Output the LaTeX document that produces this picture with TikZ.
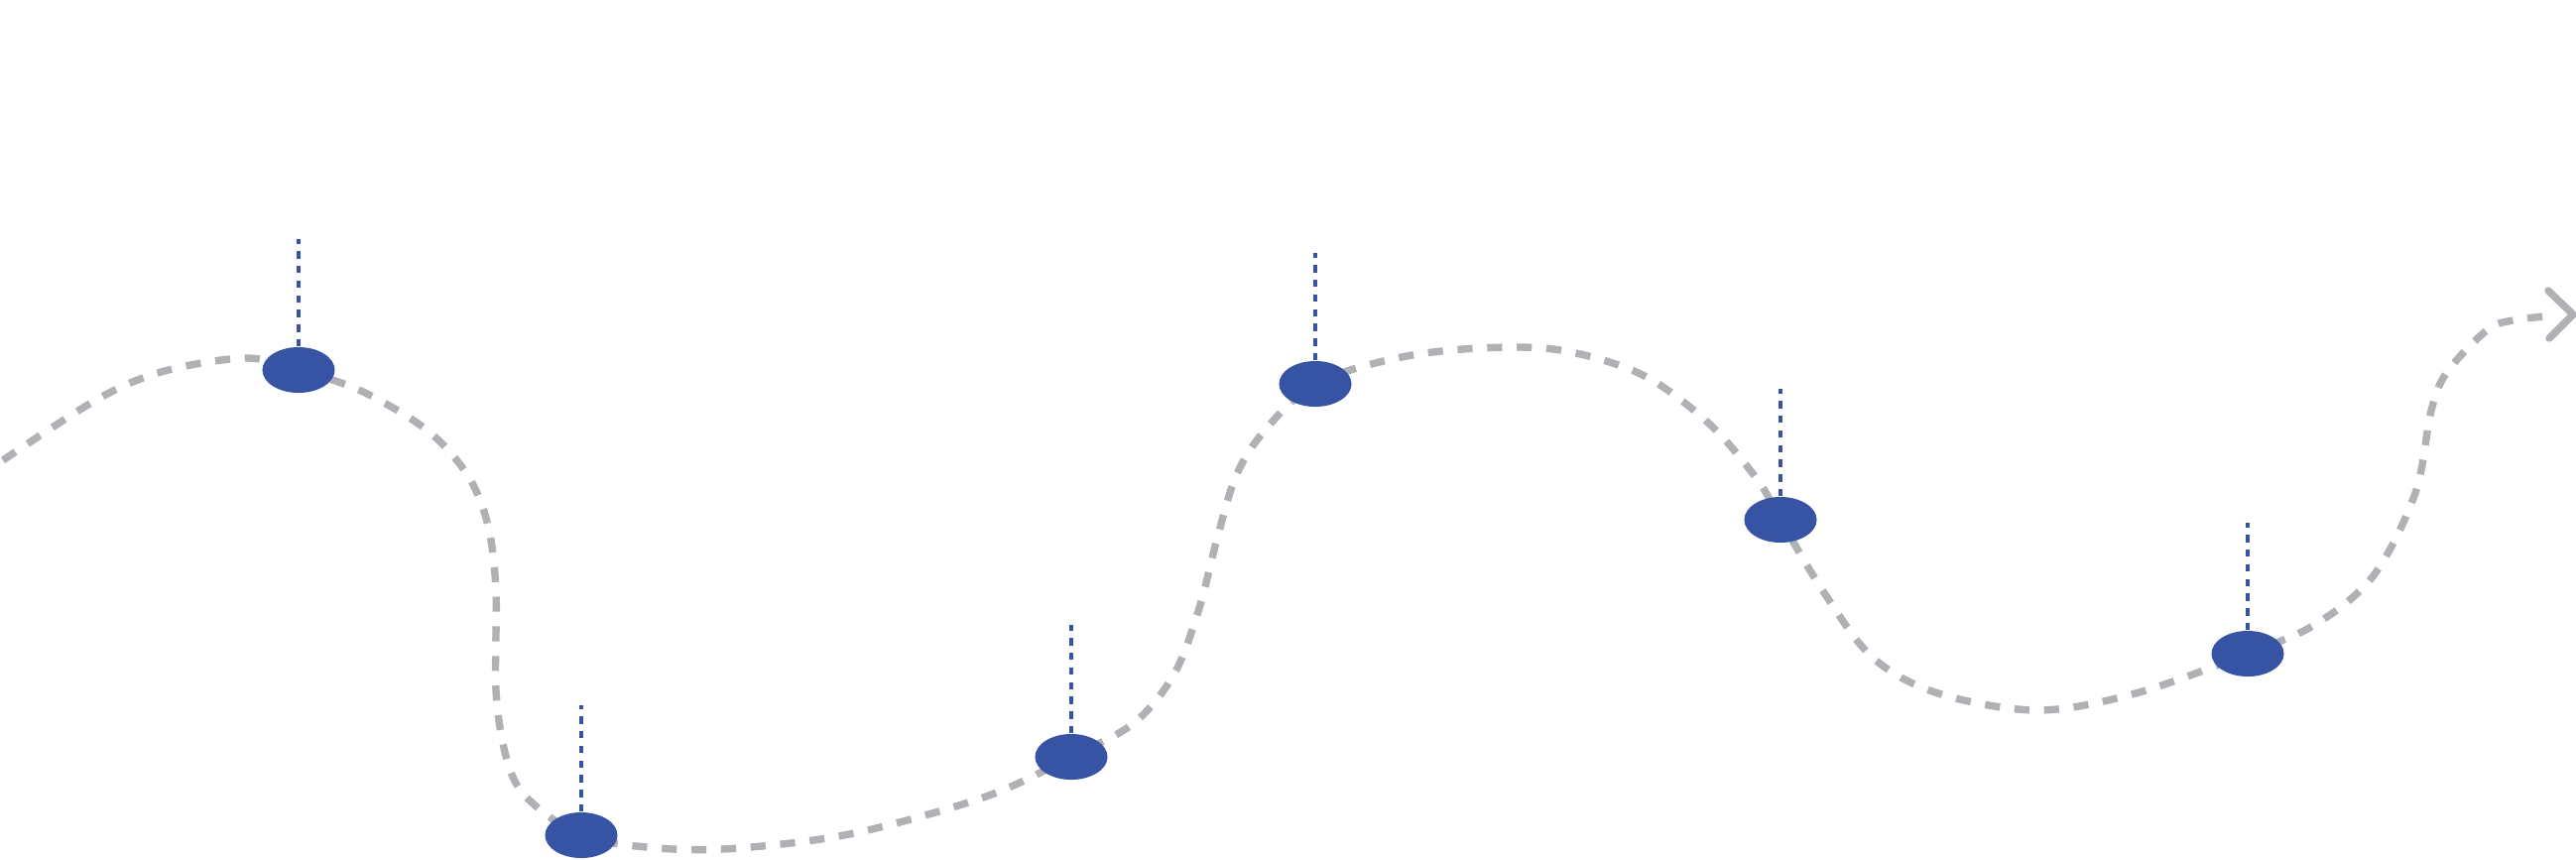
\documentclass[tikz,border=0pt]{standalone}
\usetikzlibrary{shapes.geometric,backgrounds}
\definecolor{pathgray}{HTML}{B0B1B5}
\definecolor{dotblue}{HTML}{3653A4}
\tikzset{
  trail/.style={draw=pathgray, line width=2.1pt, dash pattern=on 4.3pt off 4.2pt},
  chev/.style={draw=pathgray, line width=2.1pt, line cap=round, line join=round},
  stem/.style={draw=dotblue, line width=0.95pt, dash pattern=on 2.1pt off 2.1pt},
  dot/.style={ellipse, fill=dotblue, minimum width=0.73cm, minimum height=0.46cm, inner sep=0pt}
}
\begin{document}
\begin{tikzpicture}[x=0.01cm, y=-0.01cm]
\useasboundingbox (0,0) rectangle (2597,866);
\node[dot] (e1) at (301,373) {};
\node[dot] (e2) at (586,842) {};
\node[dot] (e3) at (1080,763) {};
\node[dot] (e4) at (1326,387) {};
\node[dot] (e5) at (1795,524) {};
\node[dot] (e6) at (2266,659) {};
\coordinate (t1) at (301,241);
\coordinate (t2) at (586,711);
\coordinate (t3) at (1080,630);
\coordinate (t4) at (1326,255);
\coordinate (t5) at (1795,392);
\coordinate (t6) at (2266,527);
\foreach \i in {1,...,6} {\draw[stem] (e\i.north) -- (t\i);}
\coordinate (start) at (3,464);
\coordinate (endc) at (2576,318);
\coordinate (tip) at (2594,317);
\coordinate (armA) at (2569,293);
\coordinate (armB) at (2570,341);
\begin{pgfonlayer}{background}
\draw[trail] plot[smooth, tension=0.55] coordinates {
 (start) (99,402) (166,374) (248,361) (e1.center) (364,394) (431,434) (472,480)
 (492,530) (500,596) (500,696) (510,762) (530,803) (e2.center) (663,855)
 (745,855) (861,840) (994,803) (e3.center) (1143,729) (1184,679) (1209,613)
 (1226,547) (1246,480) (1275,434) (e4.center) (1408,361) (1491,351) (1573,353)
 (1656,378) (1723,427) (1772,484) (e5.center) (1838,596) (1888,663) (1954,699)
 (2054,716) (2153,699) (e6.center) (2335,629) (2393,580) (2435,497) (2451,414)
 (2467,375) (2507,333) (2533,323) (endc)};
\end{pgfonlayer}
\draw[chev] (armA) -- (tip) -- (armB);
\end{tikzpicture}
\end{document}
